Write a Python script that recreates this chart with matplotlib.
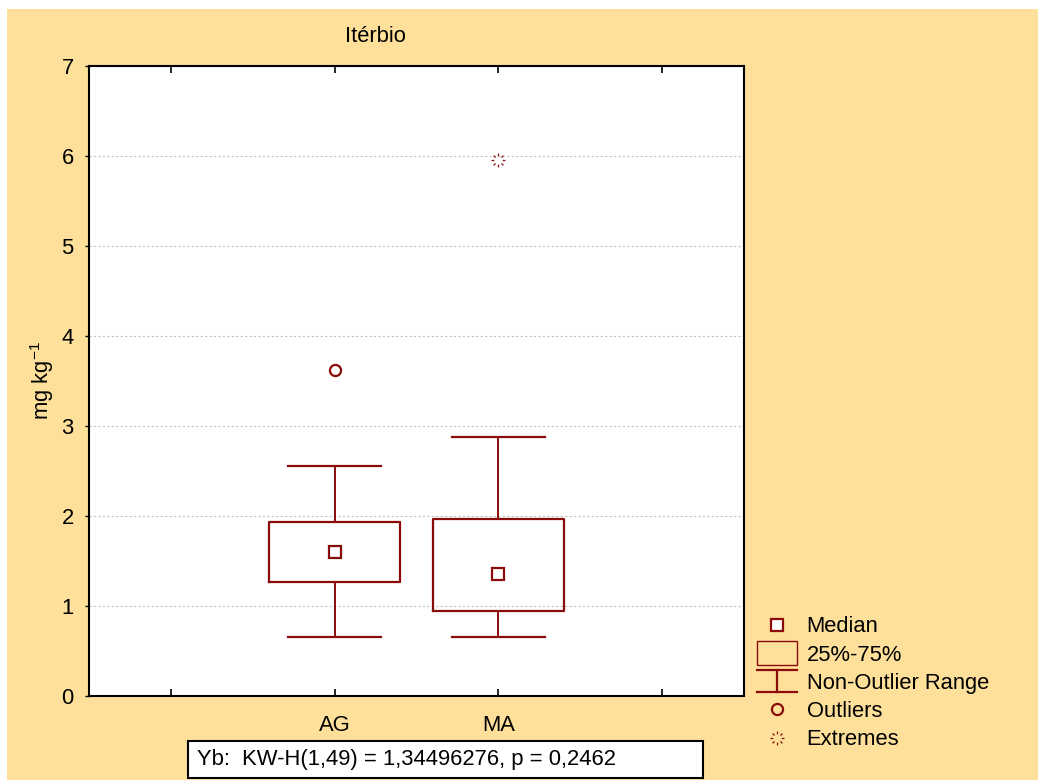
import matplotlib
matplotlib.use("Agg")
import matplotlib.pyplot as plt
import numpy as np
from matplotlib.path import Path
from matplotlib.patches import Rectangle
from matplotlib.lines import Line2D
from matplotlib.legend_handler import HandlerBase, HandlerPatch

plt.rcParams['font.family'] = ['Liberation Sans', 'DejaVu Sans']
plt.rcParams['mathtext.default'] = 'regular'

# Yb (mg/kg) summary per group
groups = ['AG', 'MA']
medians = [1.60, 1.36]
q1 = [1.27, 0.94]
q3 = [1.93, 1.97]
whis_lo = [0.66, 0.66]
whis_hi = [2.56, 2.88]
outliers = {'AG': [3.62], 'MA': []}
extremes = {'AG': [], 'MA': [5.95]}

stat_text = 'Yb:  KW-H(1,49) = 1,34496276, p = 0,2462'

RED = '#8B0A0A'
BG = '#FEE09A'
FS = 15.8

# little sunburst marker used for extremes
star_verts, star_codes = [], []
for a in np.linspace(0, 2 * np.pi, 8, endpoint=False):
    star_verts += [(0.6 * np.cos(a), 0.6 * np.sin(a)), (np.cos(a), np.sin(a))]
    star_codes += [Path.MOVETO, Path.LINETO]
star = Path(star_verts, star_codes)

fig = plt.figure(figsize=(10.38, 7.8), dpi=100, facecolor='white')
fig.patches.append(Rectangle((7 / 1038, 0), 1, 1 - 9 / 780, transform=fig.transFigure,
                             facecolor=BG, edgecolor='none', zorder=-10))

ax = fig.add_axes([89 / 1038, 84 / 780, 655 / 1038, 630 / 780])
pos = np.arange(1, len(groups) + 1)

stats = [dict(med=m, q1=a, q3=b, whislo=lo, whishi=hi, fliers=[])
         for m, a, b, lo, hi in zip(medians, q1, q3, whis_lo, whis_hi)]
ax.bxp(stats, positions=pos, widths=0.8, capwidths=0.57, showfliers=False,
       boxprops=dict(color=RED, linewidth=1.6),
       whiskerprops=dict(color=RED, linewidth=1.4),
       capprops=dict(color=RED, linewidth=1.6),
       medianprops=dict(linewidth=0))
ax.plot(pos, medians, ls='none', marker='s', ms=8, mfc='white', mec=RED, mew=1.6, zorder=5)

for p, g in zip(pos, groups):
    ax.plot([p] * len(outliers[g]), outliers[g], ls='none', marker='o', ms=8,
            mfc='none', mec=RED, mew=1.6)
    ax.plot([p] * len(extremes[g]), extremes[g], ls='none', marker=star, ms=10,
            mfc='none', mec=RED, mew=0.9)

ax.set_xlim(-0.5, 3.5)
ax.set_ylim(0, 7)
ax.set_xticks(np.arange(0, 4))
ax.set_xticklabels([''] + groups + [''])
ax.set_yticks(np.arange(0, 8))
ax.yaxis.grid(True, color='#C4C4C4', linewidth=0.8, linestyle=(0, (2, 2)))
ax.set_axisbelow(True)
ax.tick_params(axis='x', direction='in', top=True, length=5, width=1.2, labelsize=FS, pad=14)
ax.tick_params(axis='y', direction='out', length=3, width=1.0, labelsize=FS, pad=8)
for s in ax.spines.values():
    s.set_linewidth(1.5)

ax.set_ylabel('mg kg$^{-1}$', fontsize=FS, labelpad=4)
fig.text(375 / 1038, 1 - 37 / 780, 'Itérbio', ha='center', va='center', fontsize=FS)

# stats box under the plot
fig.patches.append(Rectangle((188 / 1038, 2 / 780), 515 / 1038, 37 / 780,
                             transform=fig.transFigure, facecolor='white',
                             edgecolor='black', linewidth=1.5, zorder=1))
fig.text(197 / 1038, 21 / 780, stat_text, ha='left', va='center', fontsize=FS, zorder=2)


class WhiskerHandler(HandlerBase):
    def create_artists(self, legend, orig, xd, yd, w, h, fs, trans):
        cy = -yd + h / 2
        top, bot = cy + h * 0.72, cy - h * 0.72
        mid = -xd + w / 2
        lines = [Line2D([-xd, -xd + w], [top, top]), Line2D([-xd, -xd + w], [bot, bot]),
                 Line2D([mid, mid], [bot, top])]
        for ln in lines:
            ln.set_color(RED)
            ln.set_linewidth(1.6)
            ln.set_transform(trans)
        return lines


def box_patch(legend, orig_handle, xdescent, ydescent, width, height, fontsize):
    cy = -ydescent + height / 2
    return Rectangle((-xdescent, cy - height * 0.78), width, height * 1.56,
                     facecolor='none', edgecolor=RED, linewidth=1.6)


h_med = Line2D([], [], ls='none', marker='s', ms=8, mfc='white', mec=RED, mew=1.6)
h_box = Rectangle((0, 0), 1, 1, facecolor='none', edgecolor=RED)
h_whis = Line2D([], [])
h_out = Line2D([], [], ls='none', marker='o', ms=8, mfc='none', mec=RED, mew=1.6)
h_ext = Line2D([], [], ls='none', marker=star, ms=10, mfc='none', mec=RED, mew=0.9)

fig.legend([h_med, h_box, h_whis, h_out, h_ext],
           ['Median', '25%-75%', 'Non-Outlier Range', 'Outliers', 'Extremes'],
           handler_map={h_box: HandlerPatch(patch_func=box_patch), h_whis: WhiskerHandler()},
           loc='upper left', bbox_to_anchor=(742 / 1038, 1 - 601 / 780),
           frameon=False, fontsize=FS, handlelength=1.8, handletextpad=0.45,
           labelspacing=0.33, borderpad=0.2)

fig.savefig('out.png', dpi=100, facecolor=fig.get_facecolor())
